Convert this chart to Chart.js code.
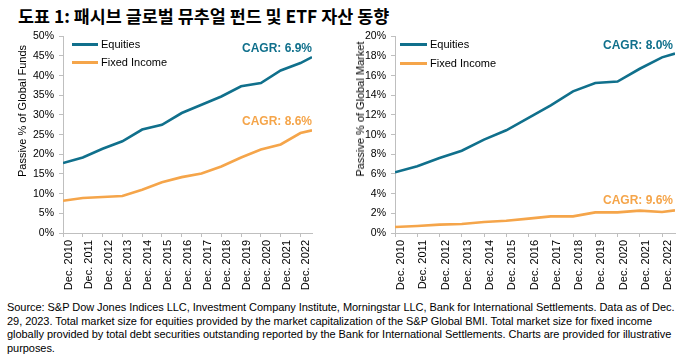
<!DOCTYPE html>
<html>
<head>
<meta charset="utf-8">
<script src="https://cdn.jsdelivr.net/npm/chart.js@4/dist/chart.umd.min.js"></script>
<style>
  html, body { margin:0; padding:0; background:#fff; }
  body { width:689px; height:361px; position:relative; overflow:hidden; font-family:"Liberation Sans", Arial, sans-serif; color:#000; }
  .abs { position:absolute; white-space:nowrap; }
  #title { left:18px; top:6px; font-family:"Noto Sans CJK KR","Liberation Sans",sans-serif; font-weight:bold; font-size:17.4px; line-height:20px; color:#000; }
  .ytitle { font-size:11px; color:#000; transform:translate(-50%,-50%) rotate(-90deg); line-height:12px; }
  .cagr { font-size:12px; font-weight:bold; line-height:12px; }
  .leg { font-size:11px; line-height:12px; color:#000; }
  .legline { position:absolute; height:3px; }
  #note { left:7px; top:301px; font-size:11px; line-height:13.6px; color:#000; letter-spacing:-0.05px; }
  canvas { position:absolute; }
</style>
</head>
<body>
<div id="title" class="abs">도표 1: 패시브 글로벌 뮤추얼 펀드 및 ETF 자산 동향</div>

<div id="wrapL" style="position:absolute;left:0;top:25px;width:330px;height:268px;"><canvas id="cL"></canvas></div>
<div id="wrapR" style="position:absolute;left:345px;top:25px;width:344px;height:268px;"><canvas id="cR"></canvas></div>

<div class="abs ytitle" style="left:22px;top:111px;">Passive % of Global Funds</div>
<div class="abs ytitle" style="left:360px;top:109px;">Passive % of Global Market</div>

<div class="legline" style="left:72px;top:43px;width:26px;background:#10708C;"></div>
<div class="abs leg" style="left:101px;top:38px;">Equities</div>
<div class="legline" style="left:72px;top:61px;width:26px;background:#F5A54A;"></div>
<div class="abs leg" style="left:101px;top:56px;">Fixed Income</div>

<div class="legline" style="left:400px;top:43px;width:27px;background:#10708C;"></div>
<div class="abs leg" style="left:430px;top:38px;">Equities</div>
<div class="legline" style="left:400px;top:62px;width:27px;background:#F5A54A;"></div>
<div class="abs leg" style="left:430px;top:57px;">Fixed Income</div>

<div class="abs cagr" style="right:377px;top:42px;color:#10708C;">CAGR: 6.9%</div>
<div class="abs cagr" style="right:377px;top:115px;color:#F5A54A;">CAGR: 8.6%</div>
<div class="abs cagr" style="right:16px;top:39px;color:#10708C;">CAGR: 8.0%</div>
<div class="abs cagr" style="right:16px;top:194px;color:#F5A54A;">CAGR: 9.6%</div>

<div id="note" class="abs">Source: S&amp;P Dow Jones Indices LLC, Investment Company Institute, Morningstar LLC, Bank for International Settlements. Data as of Dec.<br>29, 2023. Total market size for equities provided by the market capitalization of the S&amp;P Global BMI. Total market size for fixed income<br>globally provided by total debt securities outstanding reported by the Bank for International Settlements. Charts are provided for illustrative<br>purposes.</div>

<script>
// ---- Data ----
const categories = ['Dec. 2010','Dec. 2011','Dec. 2012','Dec. 2013','Dec. 2014','Dec. 2015','Dec. 2016','Dec. 2017','Dec. 2018','Dec. 2019','Dec. 2020','Dec. 2021','Dec. 2022'];
// months since Dec. 2010 for each observation (last one is the latest 2023 reading)
const monthsSinceStart = [0,12,24,36,48,60,72,84,96,108,120,132,144,151];
const fundsEquities    = [17.8,19.2,21.4,23.3,26.3,27.5,30.5,32.6,34.7,37.3,38.1,41.3,43.2,44.7];
const fundsFixedIncome = [8.2,8.9,9.15,9.4,11.0,12.9,14.2,15.1,16.9,19.2,21.2,22.5,25.4,26.1];
const marketEquities    = [6.17,6.78,7.63,8.37,9.49,10.44,11.7,12.98,14.4,15.25,15.4,16.7,17.86,18.24];
const marketFixedIncome = [0.61,0.71,0.85,0.92,1.12,1.25,1.46,1.69,1.69,2.1,2.1,2.27,2.14,2.3];
const seriesNames = ['Equities','Fixed Income'];
const leftTicks = { max:50, step:5 };
const rightTicks = { max:20, step:2 };

const TEAL = '#10708C', ORANGE = '#F5A54A', AXIS = '#BFBFBF';
const FONT = "'Liberation Sans', Arial, sans-serif";

function pts(vals){ return vals.map((v,i)=>({x: monthsSinceStart[i]/12, y: v})); }

function makeChart(id, eq, fi, tk, yWidth, padRight){
  return new Chart(document.getElementById(id), {
    type:'line',
    data:{ datasets:[
      { label:seriesNames[0], data:pts(eq), borderColor:TEAL, backgroundColor:TEAL, borderWidth:2.6, pointRadius:0, tension:0 },
      { label:seriesNames[1], data:pts(fi), borderColor:ORANGE, backgroundColor:ORANGE, borderWidth:2.6, pointRadius:0, tension:0 }
    ]},
    options:{
      responsive:true, maintainAspectRatio:false, animation:false,
      layout:{ padding:{ top:4, right:padRight, left:0, bottom:0 } },
      plugins:{ legend:{display:false}, tooltip:{enabled:false} },
      scales:{
        x:{
          type:'linear', min:0, max:monthsSinceStart[monthsSinceStart.length-1]/12,
          afterBuildTicks: s => { s.ticks = categories.map((c,i)=>({value:i})); },
          afterFit: s => { s.height = 60; },
          border:{ display:true, color:AXIS, width:1 },
          grid:{ display:true, drawOnChartArea:false, drawTicks:true, tickLength:4, color:AXIS },
          ticks:{ autoSkip:false, minRotation:90, maxRotation:90, padding:3, labelOffset:6,
                  color:'#000', font:{ family:FONT, size:11 },
                  callback: v => categories[v] }
        },
        y:{
          min:0, max:tk.max,
          afterFit: s => { s.width = yWidth; },
          border:{ display:true, color:AXIS, width:1 },
          grid:{ display:true, drawOnChartArea:false, drawTicks:true, tickLength:4, color:AXIS },
          ticks:{ stepSize:tk.step, padding:5, color:'#000', font:{ family:FONT, size:10.5 },
                  callback: v => v + '%' }
        }
      }
    }
  });
}
makeChart('cL', fundsEquities, fundsFixedIncome, leftTicks, 63, 18);
makeChart('cR', marketEquities, marketFixedIncome, rightTicks, 50, 14);
</script>
</body>
</html>
